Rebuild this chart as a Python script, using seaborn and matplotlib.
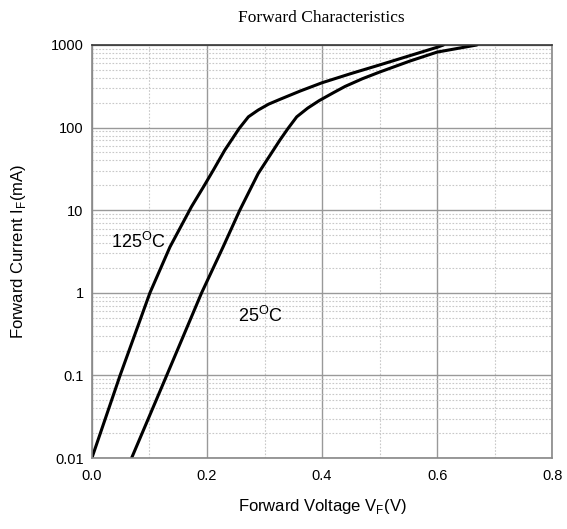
import numpy as np
import pandas as pd
import matplotlib
matplotlib.use("Agg")
import matplotlib.pyplot as plt
import matplotlib.ticker as mticker
import seaborn as sns

# forward voltage (V) / forward current (mA)
v_125 = [0.0, 0.049, 0.1009, 0.1357, 0.173, 0.194, 0.211, 0.231, 0.256, 0.272,
         0.289, 0.307, 0.327, 0.362, 0.40, 0.45, 0.50, 0.60, 0.611]
i_125 = [0.01, 0.1, 1.0, 3.59, 11, 19.2, 30.5, 53.4, 97.7, 135,
         163, 192, 220, 277, 349, 450, 573, 938, 1000]

v_25 = [0.069, 0.13, 0.1907, 0.228, 0.257, 0.289, 0.327, 0.341, 0.356, 0.375,
        0.395, 0.42, 0.44, 0.47, 0.50, 0.553, 0.60, 0.669]
i_25 = [0.01, 0.1, 1.0, 3.59, 10, 27.8, 71, 98, 135, 172,
        212, 265, 315, 390, 470, 640, 820, 1000]

y_ticks = [0.01, 0.1, 1, 10, 100, 1000]
y_labels = ["0.01", "0.1", "1", "10", "100", "1000"]
x_ticks = [0.0, 0.2, 0.4, 0.6, 0.8]
x_labels = ["0.0", "0.2", "0.4", "0.6", "0.8"]

df = pd.concat([
    pd.DataFrame({"V": v_125, "I": i_125, "temp": "125"}),
    pd.DataFrame({"V": v_25, "I": i_25, "temp": "25"}),
])

sns.set_style("white")
plt.rcParams["font.family"] = ["Liberation Sans", "DejaVu Sans"]
plt.rcParams["text.color"] = "black"
plt.rcParams["axes.labelcolor"] = "black"
plt.rcParams["xtick.color"] = "black"
plt.rcParams["ytick.color"] = "black"

fig = plt.figure(figsize=(5.67, 5.29), dpi=100)
ax = fig.add_axes([0.162, 0.134, 0.812, 0.781])

sns.lineplot(data=df, x="V", y="I", units="temp", estimator=None, sort=False,
             color="black", lw=2.2, ax=ax, legend=False)
for ln in ax.lines:
    ln.set_solid_joinstyle("round")

ax.set_yscale("log")
ax.set_xlim(0, 0.8)
ax.set_ylim(0.01, 1000)

ax.set_xticks(x_ticks)
ax.set_xticklabels(x_labels)
ax.xaxis.set_minor_locator(mticker.MultipleLocator(0.1))
ax.set_yticks(y_ticks)
ax.set_yticklabels(y_labels)
ax.yaxis.set_minor_locator(mticker.LogLocator(base=10, subs=np.arange(2, 10)))
ax.yaxis.set_minor_formatter(mticker.NullFormatter())

ax.grid(True, which="major", color="#999999", lw=1.0, ls="-")
ax.grid(True, which="minor", color="#c8c8c8", lw=0.8, ls=(0, (1.5, 1.5)))
ax.tick_params(which="both", length=0, labelsize=10.5, pad=6)
ax.tick_params(axis="x", pad=8)

for side in ["left", "bottom", "right"]:
    ax.spines[side].set_color("#888888")
    ax.spines[side].set_linewidth(1.2)
ax.spines["top"].set_color("#333333")
ax.spines["top"].set_linewidth(1.2)

ax.set_xlabel(r"Forward Voltage V$_\mathregular{F}$(V)", fontsize=12, labelpad=10)
ax.set_ylabel(r"Forward Current I$_\mathregular{F}$(mA)", fontsize=12, labelpad=16)

ax.text(0.034, 3.5, r"125$^\mathregular{O}$C", fontsize=13)
ax.text(0.254, 0.44, r"25$^\mathregular{O}$C", fontsize=13)

fig.text(0.566, 0.966, "Forward Characteristics", fontsize=12.5,
         family="Liberation Serif", ha="center", va="center")

fig.savefig("out.png", dpi=100)
